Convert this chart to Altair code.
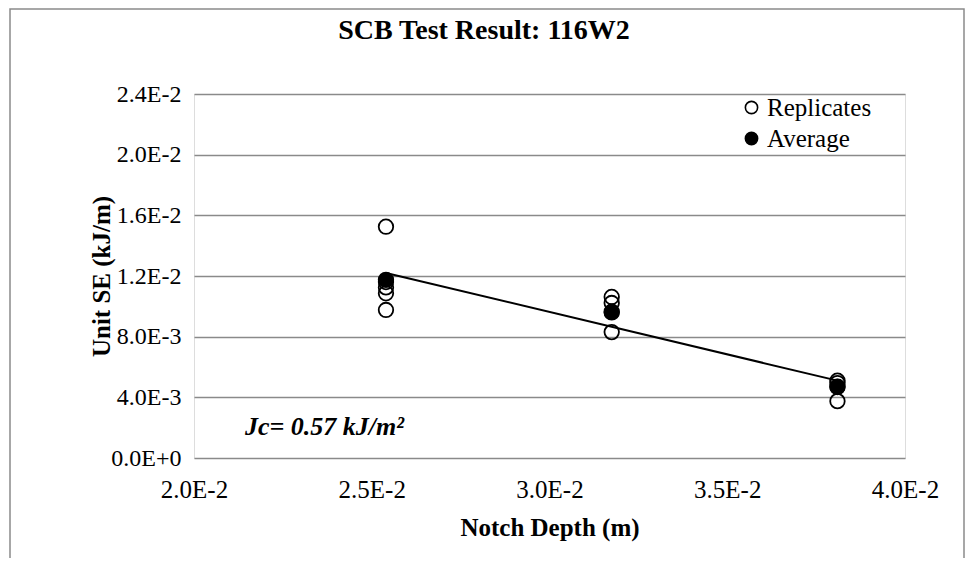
import altair as alt
import pandas as pd

# ---- data ----
rep_depth = [0.0254, 0.0254, 0.0254, 0.0254, 0.0254,
             0.03175, 0.03175, 0.03175, 0.03175,
             0.0381, 0.0381, 0.0381, 0.0381]
rep_se = [0.01525, 0.01160, 0.01125, 0.01086, 0.00976,
          0.01062, 0.01022, 0.00965, 0.00830,
          0.00510, 0.00494, 0.00470, 0.00375]
avg_depth = [0.0254, 0.03175, 0.0381]
avg_se = [0.01175, 0.00960, 0.00468]
trend_depth = [0.0254, 0.0381]
trend_se = [0.0122, 0.0051]
series_names = ["Replicates", "Average"]
title_text = "SCB Test Result: 116W2"
note_text = "Jc= 0.57 kJ/m²"
x_ticks = [0.020, 0.025, 0.030, 0.035, 0.040]
y_ticks = [0.0, 0.004, 0.008, 0.012, 0.016, 0.020, 0.024]

FONT = "Liberation Serif"
GRID = "#8a8a8a"

pts = pd.DataFrame({
    "depth": rep_depth + avg_depth,
    "se": rep_se + avg_se,
    "series": [series_names[0]] * len(rep_depth) + [series_names[1]] * len(avg_depth),
})
trend = pd.DataFrame({"depth": trend_depth, "se": trend_se})

W, H = 711, 364

xscale = alt.Scale(domain=[0.02, 0.04], nice=False, zero=False)
yscale = alt.Scale(domain=[0.0, 0.024], nice=False, zero=False)

lab = "replace(format(datum.value, '.1e'), 'e', 'E')"

xaxis = alt.Axis(values=x_ticks, labelExpr=lab, title="Notch Depth (m)",
                 grid=False, domain=False, ticks=False, labelFlush=False,
                 labelFont=FONT, labelFontSize=25, labelColor="black", labelPadding=19,
                 titleFont=FONT, titleFontSize=25, titleFontWeight="bold", titleColor="black",
                 titleBaseline="middle", titleY=69)
yaxis = alt.Axis(values=y_ticks, labelExpr=lab, title="Unit SE (kJ/m)",
                 grid=True, gridColor=GRID, gridWidth=1.6, domain=False, ticks=False,
                 labelFont=FONT, labelFontSize=24, labelColor="black", labelPadding=13,
                 titleFont=FONT, titleFontSize=25, titleFontWeight="bold", titleColor="black",
                 titleBaseline="middle", titleX=-93, titleY=H / 2, titleAngle=270)

leg = alt.Legend(title=None, orient="none", legendX=545, legendY=1,
                 labelFont=FONT, labelFontSize=25, labelColor="black",
                 symbolSize=150, symbolStrokeWidth=1.6, labelOffset=3,
                 rowPadding=5, padding=0)

points = alt.Chart(pts).mark_point(shape="circle", size=210, strokeWidth=1.8,
                                   opacity=1, fillOpacity=1).encode(
    x=alt.X("depth:Q", scale=xscale, axis=xaxis),
    y=alt.Y("se:Q", scale=yscale, axis=yaxis),
    fill=alt.Fill("series:N", scale=alt.Scale(domain=series_names, range=["transparent", "black"]),
                  legend=leg),
    stroke=alt.Stroke("series:N", scale=alt.Scale(domain=series_names, range=["black", "black"]),
                      legend=leg),
    order=alt.Order("series:N", sort="descending"),
)

line = alt.Chart(trend).mark_line(color="black", strokeWidth=2).encode(
    x=alt.X("depth:Q", scale=xscale),
    y=alt.Y("se:Q", scale=yscale),
)

title = alt.Chart(pd.DataFrame({"t": [title_text]})).mark_text(
    font=FONT, fontSize=28, fontWeight="bold", color="black", align="center", baseline="middle"
).encode(x=alt.value(290), y=alt.value(-63), text="t:N")

note = alt.Chart(pd.DataFrame({"t": [note_text]})).mark_text(
    font=FONT, fontSize=26, fontWeight="bold", fontStyle="italic", color="black",
    align="left", baseline="middle"
).encode(x=alt.value(51), y=alt.value(333), text="t:N")

frame = alt.Chart(pd.DataFrame({"a": [0]})).mark_rect(
    fill="transparent", stroke=GRID, strokeWidth=1.5
).encode(x=alt.value(-184), x2=alt.value(770), y=alt.value(-85), y2=alt.value(468))

chart = alt.layer(frame, points, line, title, note).properties(
    width=W, height=H,
    autosize=alt.AutoSizeParams(type="none"),
    padding={"left": 186, "top": 86, "right": 61, "bottom": 100},
).configure_view(stroke=GRID, strokeWidth=1.6).configure(background="white")

chart.save("out.html", embed_options={"renderer": "svg", "actions": False})
